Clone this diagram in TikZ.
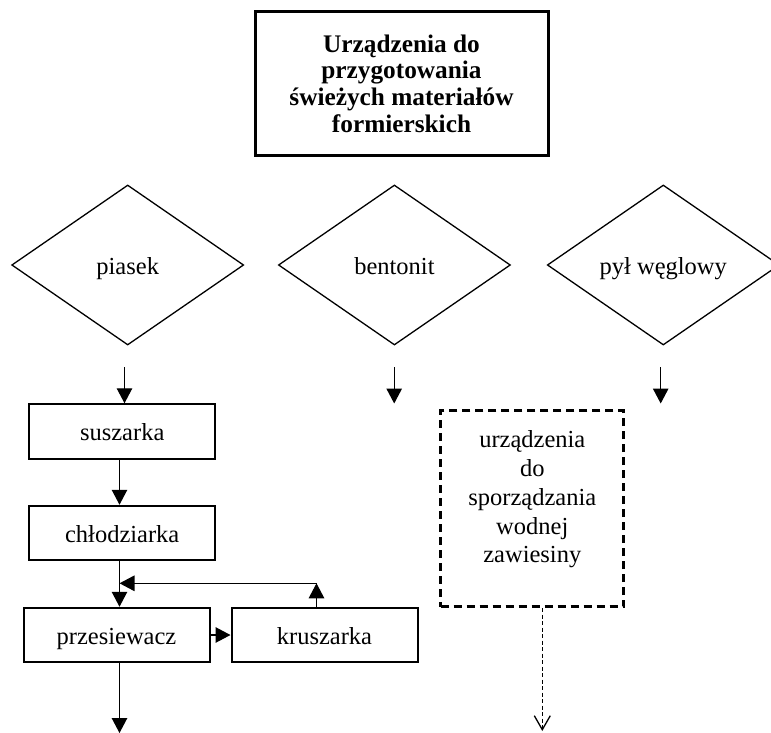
\documentclass[tikz,border=0pt]{standalone}
\usepackage{fontspec}
\setmainfont{Liberation Serif}
\usetikzlibrary{shapes.geometric,arrows.meta}
\begin{document}
\begin{tikzpicture}[x=1pt,y=-1pt,
  every node/.style={inner sep=0pt, font=\fontsize{24.5}{28.7}\selectfont},
  oneline/.style={text height=21pt, text depth=3pt},
  rhomb/.style={draw, shape=diamond, oneline, line width=1.3pt, minimum width=232pt,
    minimum height=160pt, aspect=1.45},
  unit/.style={draw, oneline, line width=2pt, minimum width=186pt, minimum height=54.5pt},
  headbox/.style={draw, line width=3pt, align=center,
    font=\bfseries\fontsize{25.3}{26.7}\selectfont},
  optbox/.style={draw, line width=3pt, dash pattern=on 8pt off 5pt, align=center},
  flow/.style={line width=1.3pt, -{Triangle[length=15pt,width=15.5pt]}},
  optflow/.style={line width=1.3pt, dash pattern=on 4pt off 2.5pt,
    -{Straight Barb[length=14pt,width=16pt]}}]
\useasboundingbox (0,0) rectangle (771,733);
\clip (0,0) rectangle (771,733);

% heading
\node[headbox, minimum width=293pt, minimum height=143.3pt] (title) at (401.5,83.4)
  {Urządzenia do\\przygotowania\\świeżych materiałów\\formierskich};

% raw materials
\node[rhomb] (piasek) at (127.7,265) {piasek};
\node[rhomb] (bentonit) at (394.4,265) {bentonit};
\node[rhomb] (pyl) at (663.3,265) {pył węglowy};

% sand line
\node[unit] (sus) at (122.2,431.5) {suszarka};
\node[unit] (chl) at (122.2,533) {chłodziarka};
\node[unit] (prz) at (116.5,635) {przesiewacz};
\node[unit] (kru) at (324.5,635) {kruszarka};

% coal dust suspension
\node[optbox, minimum width=183.3pt, minimum height=196pt] (zaw) at (532.3,508.7)
  {urządzenia\\do\\sporządzania\\wodnej\\zawiesiny\\[-5pt]};

% free ends of the connectors
\coordinate (in1) at (124.5,367);
\coordinate (in2) at (394.2,367);
\coordinate (end2) at (394.2,403.5);
\coordinate (in3) at (660.7,367);
\coordinate (end3) at (660.7,403.5);
\coordinate (back) at (316.5,583.3);
\coordinate (out1) at (119.5,733);
\coordinate (out2) at (542.3,731);

% connectors
\draw[flow] (in1) -- (in1 |- sus.north);
\draw[flow] (in2) -- (end2);
\draw[flow] (in3) -- (end3);
\draw[flow] (sus.south -| out1) -- (chl.north -| out1);
\draw[flow] (chl.south -| out1) -- (prz.north -| out1);
\draw[flow] (prz.east) -- (kru.west);
\draw[flow] (kru.north -| back) -- (back);
\draw[flow] (back) -- (back -| out1);
\draw[flow] (prz.south -| out1) -- (out1);
\draw[optflow] (zaw.south -| out2) -- (out2);
\end{tikzpicture}
\end{document}
